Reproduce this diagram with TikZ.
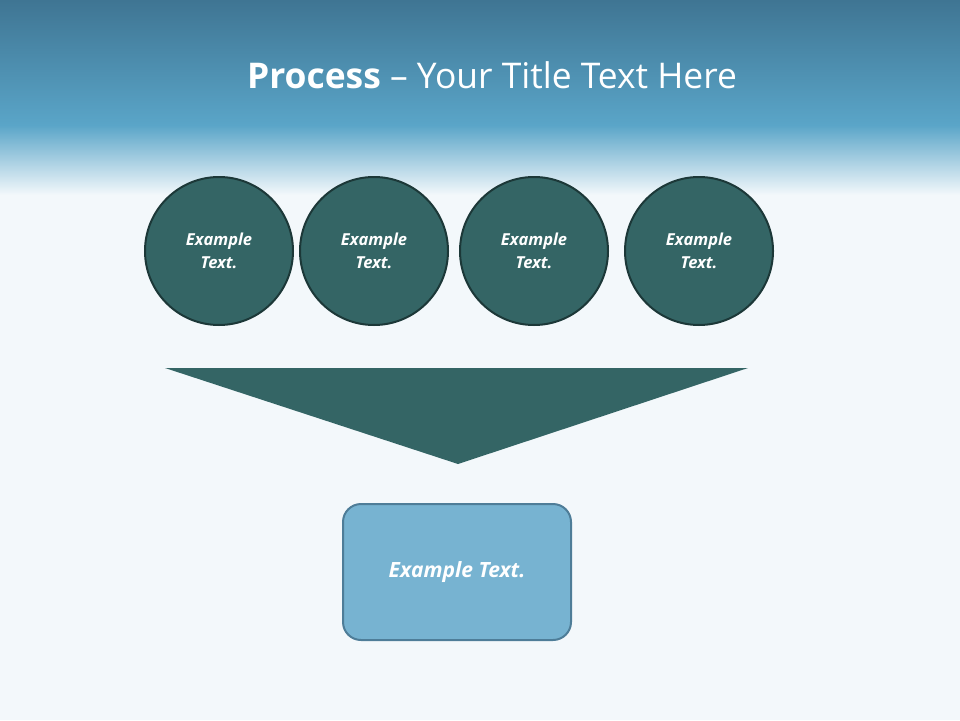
\documentclass[tikz,border=0pt]{standalone}
\usepackage{fontspec}
\setmainfont{Open Sans}
\definecolor{hdrtop}{HTML}{3F7593}
\definecolor{hdrbot}{HTML}{5AA5C8}
\definecolor{bgc}{HTML}{F3F8FB}
\definecolor{teal}{HTML}{346565}
\definecolor{tealdk}{HTML}{1C3838}
\definecolor{boxc}{HTML}{77B3D1}
\definecolor{boxdk}{HTML}{4E7D98}
\tikzset{
 circ/.style={circle,minimum size=148pt,fill=teal,draw=tealdk,line width=2pt,text=white,font=\bfseries\itshape\fontsize{16.5}{23}\selectfont,align=center,inner sep=0pt},
 rbox/.style={rounded corners=18pt,fill=boxc,draw=boxdk,line width=2pt,minimum width=228pt,minimum height=136pt,text=white,font=\bfseries\itshape\fontsize{21}{25}\selectfont,inner sep=0pt}
}
\begin{document}
\begin{tikzpicture}[x=1pt,y=-1pt]
\useasboundingbox (0,0) rectangle (960,720);
\fill[bgc] (0,0) rectangle (960,720);
\shade[top color=hdrtop,bottom color=hdrbot] (0,0) rectangle (960,125);
\shade[top color=hdrbot,bottom color=bgc] (0,125) rectangle (960,195);
\node[text=white,font=\fontsize{35.4}{40}\selectfont] (title) at (492,75) {\textbf{Process} -- Your Title Text Here};
\node[circ] (c1) at (219,251) {Example\\Text.};
\node[circ] (c2) at (374,251) {Example\\Text.};
\node[circ] (c3) at (534,251) {Example\\Text.};
\node[circ] (c4) at (699,251) {Example\\Text.};
\coordinate (t1) at (165,368);
\coordinate (t2) at (748,368);
\coordinate (t3) at (458,464);
\fill[teal] (t1) -- (t2) -- (t3) -- cycle;
\node[rbox] (box) at (457,572) {Example Text.};
\end{tikzpicture}
\end{document}
